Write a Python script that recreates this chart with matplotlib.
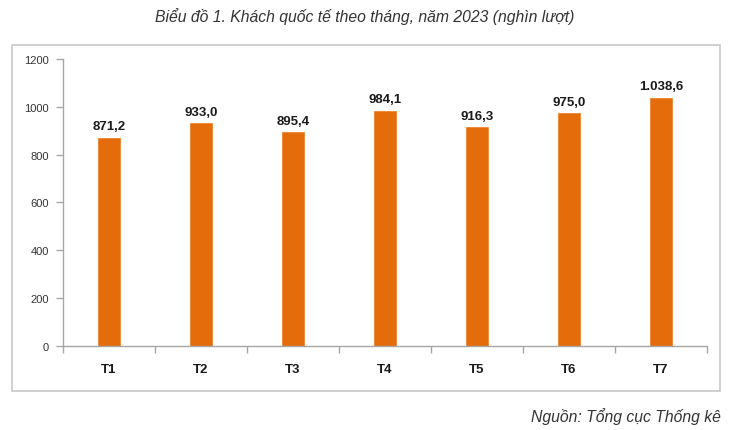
import matplotlib
matplotlib.use("Agg")
import matplotlib.pyplot as plt
from matplotlib.patches import Rectangle

categories = ["T1", "T2", "T3", "T4", "T5", "T6", "T7"]
values = [871.2, 933.0, 895.4, 984.1, 916.3, 975.0, 1038.6]
labels = ["871,2", "933,0", "895,4", "984,1", "916,3", "975,0", "1.038,6"]
yticks = [0, 200, 400, 600, 800, 1000, 1200]
title = "Biểu đồ 1. Khách quốc tế theo tháng, năm 2023 (nghìn lượt)"
source = "Nguồn: Tổng cục Thống kê"

plt.rcParams['font.family'] = ['Liberation Sans', 'DejaVu Sans']

W, H = 730, 431
fig = plt.figure(figsize=(W / 100, H / 100), dpi=100)
fig.patch.set_facecolor("white")

# outer frame
fig.patches.append(Rectangle((12 / W, 1 - 392 / H), (720 - 12) / W, (392 - 46) / H,
                             transform=fig.transFigure, fill=False,
                             edgecolor="#c8c8c8", lw=1.2))

ax = fig.add_axes([63 / W, 1 - 347 / H, (707 - 63) / W, (347 - 60) / H])
x = list(range(len(categories)))
ax.bar(x, values, width=0.24, color="#E46C0A", edgecolor="#F07A1A", lw=0.5, zorder=2)
for xi, v, lab in zip(x, values, labels):
    ax.text(xi, v + 22, lab, ha="center", va="bottom", fontsize=9.5,
            fontweight="bold", color="#1a1a1a")

ax.set_xlim(-0.5, len(categories) - 0.5)
ax.set_ylim(0, 1200)
ax.set_yticks(yticks)
ax.set_yticklabels([str(t) for t in yticks], fontsize=8, color="#333333")
ax.set_xticks(x)
ax.set_xticklabels(categories, fontsize=9.5, fontweight="bold", color="#1a1a1a")
ax.tick_params(axis="x", length=0, pad=12)
ax.set_xticks([i - 0.5 for i in range(len(categories) + 1)], minor=True)
ax.tick_params(axis="x", which="minor", length=5, color="#a6a6a6", width=1)
ax.tick_params(axis="y", length=5, color="#a6a6a6", width=1, pad=5)
for s in ["top", "right"]:
    ax.spines[s].set_visible(False)
for s in ["left", "bottom"]:
    ax.spines[s].set_color("#a6a6a6")
    ax.spines[s].set_linewidth(1)

fig.text(365 / W, 1 - 17 / H, title, ha="center", va="center", fontsize=11.3,
         style="italic", color="#333333")
fig.text(721 / W, 1 - 417 / H, source, ha="right", va="center", fontsize=11.3,
         style="italic", color="#333333")

fig.savefig("out.png", dpi=100, facecolor="white")
